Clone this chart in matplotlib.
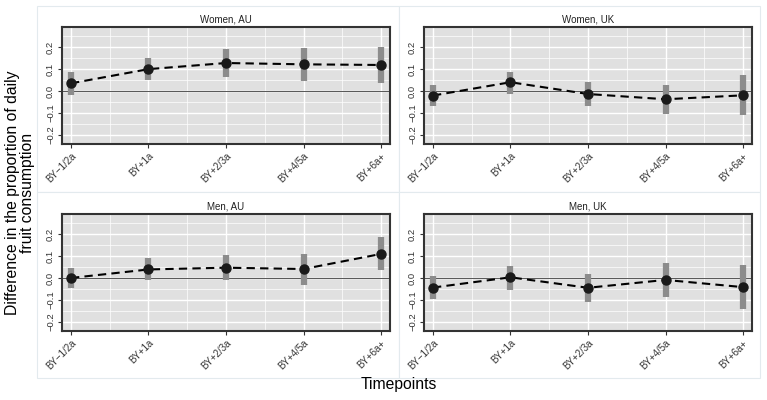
import matplotlib
matplotlib.use("Agg")
import matplotlib.pyplot as plt
from matplotlib.patches import Rectangle
from matplotlib.ticker import MultipleLocator

plt.rcParams['font.family'] = ['Liberation Sans', 'DejaVu Sans']

timepoints = ["BY\u22121/2a", "BY+1a", "BY+2/3a", "BY+4/5a", "BY+6a+"]
panels = ["Women, AU", "Women, UK", "Men, AU", "Men, UK"]

women_au_est = [0.035, 0.100, 0.128, 0.122, 0.119]
women_au_lo = [-0.017, 0.050, 0.064, 0.047, 0.038]
women_au_hi = [0.089, 0.151, 0.192, 0.195, 0.200]

women_uk_est = [-0.021, 0.040, -0.014, -0.038, -0.020]
women_uk_lo = [-0.069, -0.012, -0.069, -0.104, -0.111]
women_uk_hi = [0.026, 0.089, 0.041, 0.027, 0.072]

men_au_est = [0.000, 0.039, 0.047, 0.041, 0.110]
men_au_lo = [-0.047, -0.011, -0.011, -0.030, 0.036]
men_au_hi = [0.044, 0.091, 0.106, 0.110, 0.186]

men_uk_est = [-0.044, 0.003, -0.045, -0.009, -0.042]
men_uk_lo = [-0.097, -0.053, -0.108, -0.088, -0.144]
men_uk_hi = [0.011, 0.056, 0.017, 0.067, 0.061]

data = [
    (women_au_est, women_au_lo, women_au_hi),
    (women_uk_est, women_uk_lo, women_uk_hi),
    (men_au_est, men_au_lo, men_au_hi),
    (men_uk_est, men_uk_lo, men_uk_hi),
]

W, H = 767, 400
fig = plt.figure(figsize=(W / 100, H / 100), dpi=100)

# panel boxes (px)
boxes = [(37, 6, 399, 192), (399, 6, 760, 192), (37, 192, 399, 378), (399, 192, 760, 378)]
for (x0, y0, x1, y1) in boxes:
    fig.patches.append(Rectangle((x0 / W, 1 - y1 / H), (x1 - x0) / W, (y1 - y0) / H,
                                 transform=fig.transFigure, facecolor='white',
                                 edgecolor='#e3eaee', lw=0.8, zorder=-5))

axpos = [(62, 27), (424, 27), (62, 214), (424, 214)]
aw, ah = 328, 117
xpos = list(range(1, len(timepoints) + 1))

for i, (lx, ty) in enumerate(axpos):
    ax = fig.add_axes([lx / W, 1 - (ty + ah) / H, aw / W, ah / H], zorder=2)
    est, lo, hi = data[i]
    ax.set_facecolor('#e0e0e0')
    ax.set_xlim(0.884, 5.116)
    ax.set_ylim(-0.243, 0.293)
    ax.yaxis.set_major_locator(MultipleLocator(0.1))
    ax.yaxis.set_minor_locator(MultipleLocator(0.05))
    ax.set_xticks(xpos)
    ax.set_xticks([1.5, 2.5, 3.5, 4.5], minor=True)
    ax.grid(which='major', color='white', lw=1.0)
    ax.grid(which='minor', color='white', lw=0.5)
    ax.set_axisbelow(True)
    ax.axhline(0, color='#555555', lw=0.7, zorder=1)
    ax.vlines(xpos, lo, hi, color='#8c8c8c', lw=4.5, zorder=2)
    ax.plot(xpos, est, color='black', lw=1.5, ls=(0, (4, 2.5)), zorder=3)
    ax.plot(xpos, est, 'o', color='#1a1a1a', ms=6.5, zorder=4)
    ax.set_yticks([-0.2, -0.1, 0.0, 0.1, 0.2])
    ax.set_yticklabels(['\u22120.2', '\u22120.1', '0.0', '0.1', '0.2'],
                       rotation=90, va='center', fontsize=6.8, color='#333333')
    ax.set_xticklabels(timepoints, rotation=45, ha='right', rotation_mode='anchor',
                       fontsize=7, color='#333333')
    ax.tick_params(which='major', length=3, width=0.8, color='#333333', pad=2)
    ax.tick_params(which='minor', length=0)
    for s in ax.spines.values():
        s.set_color('#333333')
        s.set_linewidth(1.5)
    ax.set_title(panels[i], fontsize=7, pad=3, color='#222222')

fig.text(20 / W, 1 - 193 / H, "Difference in the proportion of daily\nfruit consumption",
         rotation=90, ha='center', va='center', fontsize=11.3, linespacing=1.05)
fig.text(399 / W, 1 - 384 / H, "Timepoints", ha='center', va='center', fontsize=11.3)

fig.savefig("out.png", dpi=100)
